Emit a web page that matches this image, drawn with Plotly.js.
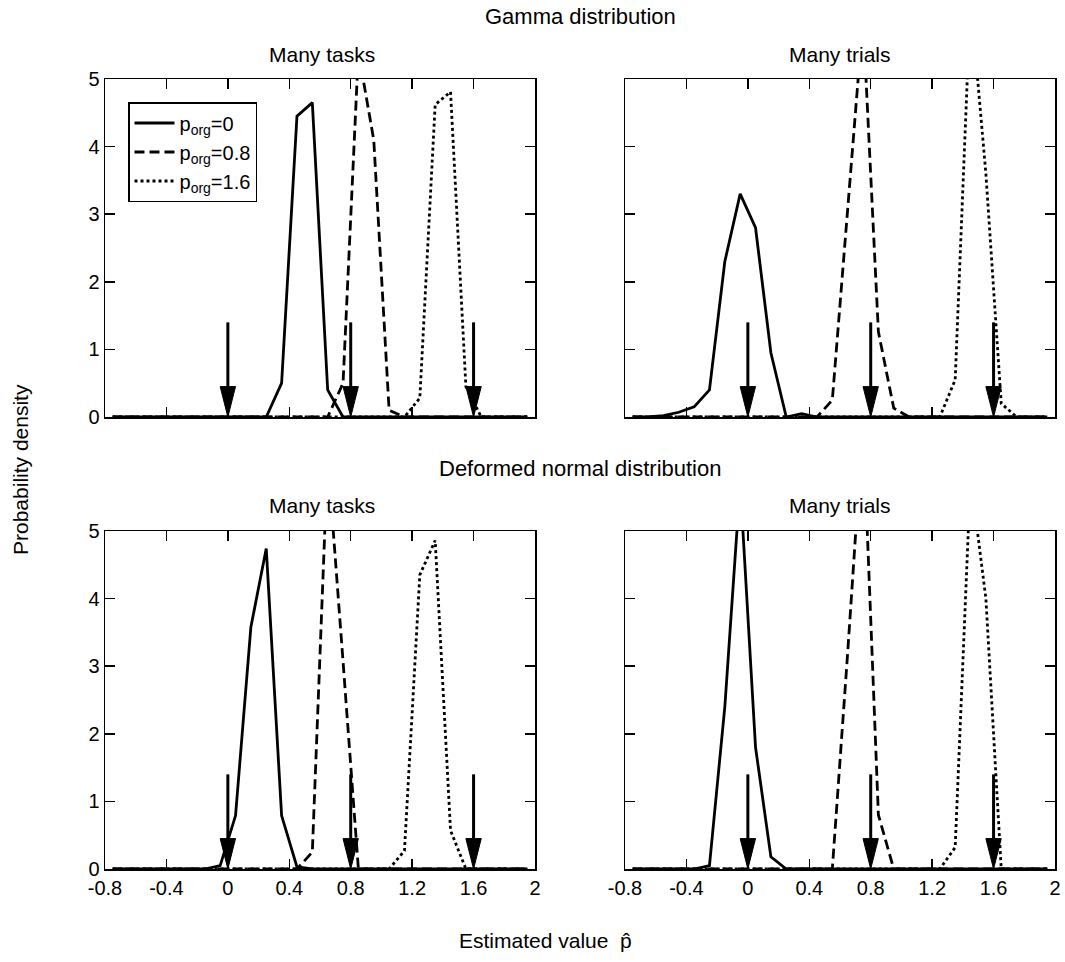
<!DOCTYPE html>
<html><head><meta charset="utf-8">
<script src="https://cdn.plot.ly/plotly-3.0.1.min.js"></script>
<style>html,body{margin:0;padding:0;background:#fff}#chart{width:1065px;height:962px}</style>
</head><body><div id="chart"></div>
<script>
// Estimated value grid (bin centres)
const xGrid = [-0.75,-0.65,-0.55,-0.45,-0.35,-0.25,-0.15,-0.05,0.05,0.15,0.25,0.35,0.45,0.55,0.65,0.75,0.85,0.95,1.05,1.15,1.25,1.35,1.45,1.55,1.65,1.75,1.85,1.95];

// Gamma distribution – many tasks
const gammaTasksP0  = [0,0,0,0,0,0,0,0,0,0,0,0.5,4.45,4.65,0.4,0,0,0,0,0,0,0,0,0,0,0,0,0];
const gammaTasksP08 = [0,0,0,0,0,0,0,0,0,0,0,0,0,0,0,0.5,5.4,4.1,0.1,0,0,0,0,0,0,0,0,0];
const gammaTasksP16 = [0,0,0,0,0,0,0,0,0,0,0,0,0,0,0,0,0,0,0,0,0.28,4.62,4.81,0.45,0,0,0,0];
// Gamma distribution – many trials
const gammaTrialsP0  = [0,0,0.02,0.07,0.15,0.4,2.3,3.3,2.8,0.95,0,0.05,0,0,0,0,0,0,0,0,0,0,0,0,0,0,0,0];
const gammaTrialsP08 = [0,0,0,0,0,0,0,0,0,0,0,0,0,0.25,3.05,5.9,1.26,0.13,0,0,0,0,0,0,0,0,0,0];
const gammaTrialsP16 = [0,0,0,0,0,0,0,0,0,0,0,0,0,0,0,0,0,0,0,0,0,0.55,6.2,3.6,0.2,0,0,0];
// Deformed normal distribution – many tasks
const normalTasksP0  = [0,0,0,0,0,0,0,0.05,0.79,3.58,4.74,0.79,0.03,0,0,0,0,0,0,0,0,0,0,0,0,0,0,0];
const normalTasksP08 = [0,0,0,0,0,0,0,0,0,0,0,0,0,0.25,6.1,3.07,0,0,0,0,0,0,0,0,0,0,0,0];
const normalTasksP16 = [0,0,0,0,0,0,0,0,0,0,0,0,0,0,0,0,0,0,0,0.27,4.35,4.86,0.57,0,0,0,0,0];
// Deformed normal distribution – many trials
const normalTrialsP0  = [0,0,0,0,0,0.05,2.4,5.7,1.8,0.18,0,0,0,0,0,0,0,0,0,0,0,0,0,0,0,0,0,0];
const normalTrialsP08 = [0,0,0,0,0,0,0,0,0,0,0,0,0,0,3.2,6.6,0.8,0,0,0,0,0,0,0,0,0,0,0];
const normalTrialsP16 = [0,0,0,0,0,0,0,0,0,0,0,0,0,0,0,0,0,0,0,0,0,0.32,5.8,4.0,0,0,0,0];

// True values (arrows)
const trueValues = [0, 0.8, 1.6];
const arrowTop = 1.4;

const seriesNames = ['p<sub>org</sub>=0', 'p<sub>org</sub>=0.8', 'p<sub>org</sub>=1.6'];
const xTickVals = [-0.8,-0.4,0,0.4,0.8,1.2,1.6,2];
const xTickText = ['-0.8','-0.4','0','0.4','0.8','1.2','1.6','2'];
const yTickVals = [0,1,2,3,4,5];

const panels = [
  {xa:'x',  ya:'y',  series:[gammaTasksP0, gammaTasksP08, gammaTasksP16], legend:true},
  {xa:'x2', ya:'y2', series:[gammaTrialsP0, gammaTrialsP08, gammaTrialsP16]},
  {xa:'x3', ya:'y3', series:[normalTasksP0, normalTasksP08, normalTasksP16]},
  {xa:'x4', ya:'y4', series:[normalTrialsP0, normalTrialsP08, normalTrialsP16]}
];
const dashes = ['solid', '10px,5px', '3px,3px'];
const LW = 2.8;
const headHalf = 0.05, headLen = 0.45;

const traces = [];
panels.forEach(p => {
  p.series.forEach((s, i) => {
    traces.push({
      type:'scatter', mode:'lines', x:xGrid, y:s, xaxis:p.xa, yaxis:p.ya,
      name:seriesNames[i], showlegend:!!p.legend,
      line:{color:'#000', width:LW, dash:dashes[i]}, hoverinfo:'skip'
    });
  });
  trueValues.forEach(v => {
    traces.push({type:'scatter', mode:'lines', x:[v, v], y:[arrowTop, headLen*0.9],
      xaxis:p.xa, yaxis:p.ya, showlegend:false, hoverinfo:'skip',
      line:{color:'#000', width:3}});
    traces.push({type:'scatter', mode:'lines', x:[v-headHalf, v+headHalf, v, v-headHalf],
      y:[headLen, headLen, 0, headLen], fill:'toself', fillcolor:'#000',
      xaxis:p.xa, yaxis:p.ya, showlegend:false, hoverinfo:'skip',
      line:{color:'#000', width:1}});
  });
});

const W = 1065, H = 962;
const fx = px => px / W, fy = py => 1 - py / H;
const font = 'Liberation Sans, Arial, sans-serif';

function xAxis(domain, labels) {
  return {domain:domain, range:[-0.8, 2], showgrid:false, zeroline:false,
    showline:true, linecolor:'#000', linewidth:1.5, mirror:'ticks',
    ticks:'inside', ticklen:10, tickwidth:1.5, tickcolor:'#000',
    tickvals:xTickVals, ticktext:xTickText, showticklabels:labels,
    tickfont:{family:font, size:20, color:'#000'}, fixedrange:true};
}
function yAxis(domain, anchor, labels) {
  return {domain:domain, range:[0, 5], anchor:anchor, showgrid:false, zeroline:false,
    showline:true, linecolor:'#000', linewidth:1.5, mirror:'ticks',
    ticks:'inside', ticklen:10, tickwidth:1.5, tickcolor:'#000',
    tickvals:yTickVals, showticklabels:labels,
    tickfont:{family:font, size:20, color:'#000'}, fixedrange:true};
}
const xdL = [fx(105), fx(535)], xdR = [fx(625), fx(1055)];
const ydT = [fy(417), fy(79)], ydB = [fy(869), fy(531)];

function ann(text, px, py, size, extra) {
  return Object.assign({text:text, x:fx(px), y:fy(py), xref:'paper', yref:'paper',
    xanchor:'center', yanchor:'middle', showarrow:false,
    font:{family:font, size:size, color:'#000'}}, extra || {});
}

const layout = {
  width:W, height:H, margin:{l:0, r:0, t:0, b:0},
  paper_bgcolor:'#fff', plot_bgcolor:'#fff', showlegend:true,
  xaxis: Object.assign(xAxis(xdL, false), {anchor:'y'}),
  yaxis: yAxis(ydT, 'x', true),
  xaxis2: Object.assign(xAxis(xdR, false), {anchor:'y2'}),
  yaxis2: yAxis(ydT, 'x2', false),
  xaxis3: Object.assign(xAxis(xdL, true), {anchor:'y3'}),
  yaxis3: yAxis(ydB, 'x3', true),
  xaxis4: Object.assign(xAxis(xdR, true), {anchor:'y4'}),
  yaxis4: yAxis(ydB, 'x4', false),
  legend:{x:fx(128), y:fy(102), xanchor:'left', yanchor:'top',
    bgcolor:'#fff', bordercolor:'#000', borderwidth:1.5,
    font:{family:font, size:20, color:'#000'}, itemwidth:40, tracegroupgap:0},
  annotations:[
    ann('Gamma distribution', 580, 17, 22),
    ann('Many tasks', 322, 54, 21),
    ann('Many trials', 840, 54, 21),
    ann('Deformed normal distribution', 580, 468, 22),
    ann('Many tasks', 322, 505, 21),
    ann('Many trials', 840, 505, 21),
    ann('Probability density', 20, 470, 21, {textangle:-90}),
    ann('Estimated value  p\u0302', 545, 940, 21)
  ]
};

Plotly.newPlot('chart', traces, layout, {displayModeBar:false, staticPlot:true});
</script>
</body></html>
